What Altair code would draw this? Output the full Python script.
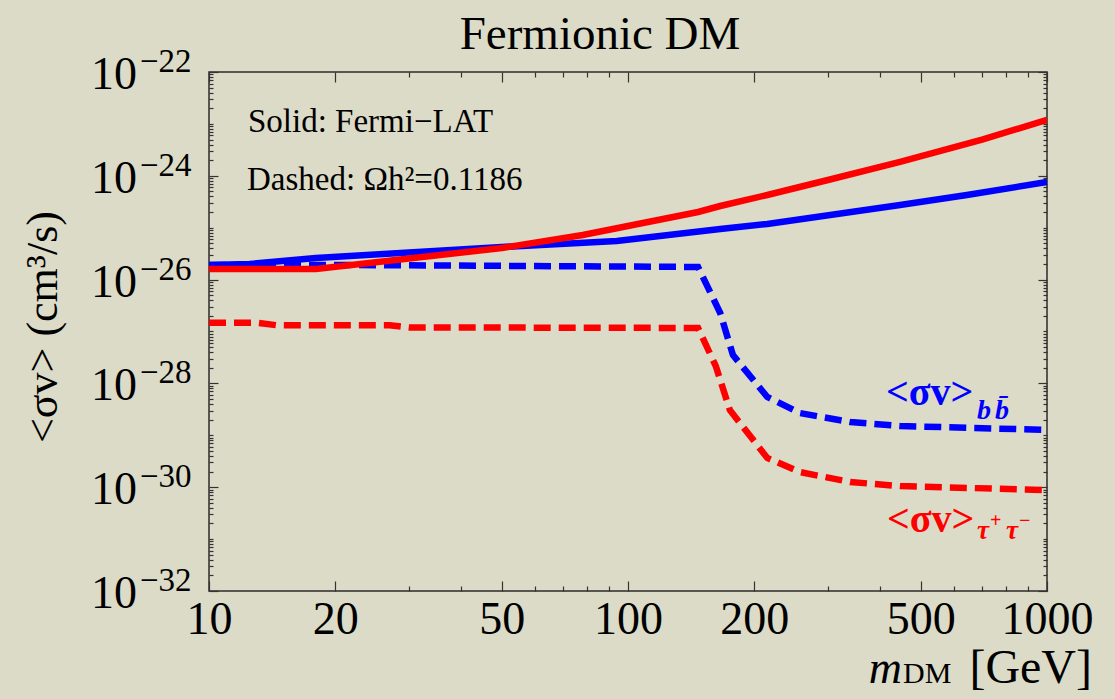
import altair as alt
import pandas as pd

# Dark-matter mass (GeV) and annihilation cross section <σv> (cm^3/s)
bb_fermi_mass = [10, 12.5, 18, 50, 94, 166, 215, 446, 644, 1000]
bb_fermi_sv = [1.91e-26, 2.00e-26, 2.61e-26, 4.25e-26, 5.55e-26, 9.44e-26,
               1.18e-25, 2.74e-25, 4.27e-25, 7.60e-25]

tau_fermi_mass = [10, 18, 50, 78, 147, 166, 215, 300, 446, 700, 1000]
tau_fermi_sv = [1.60e-26, 1.60e-26, 4.06e-26, 7.23e-26, 2.01e-25, 2.62e-25,
                4.27e-25, 8.30e-25, 1.85e-24, 5.0e-24, 1.19e-23]

bb_relic_mass = [10, 25, 147, 166, 178, 215, 257, 339, 446, 1000]
bb_relic_sv = [1.91e-26, 1.90e-26, 1.75e-26, 2.27e-27, 3.52e-28, 5.47e-29,
               2.69e-29, 1.80e-29, 1.51e-29, 1.27e-29]

tau_relic_mass = [10, 13, 14.5, 27, 30, 147, 162, 175, 215, 257, 339, 446, 1000]
tau_relic_sv = [1.48e-27, 1.48e-27, 1.32e-27, 1.32e-27, 1.20e-27, 1.17e-27,
                2.16e-28, 3.07e-29, 3.66e-30, 1.96e-30, 1.26e-30, 1.05e-30, 8.8e-31]

# Axis ticks and labels
x_major = [10, 20, 50, 100, 200, 500, 1000]
x_minor = [30, 40, 60, 70, 80, 90, 300, 400, 600, 700, 800, 900]
y_label_exp = [-22, -24, -26, -28, -30, -32]
y_odd_exp = [-23, -25, -27, -29, -31]

FONT = "Liberation Serif"
W, H = 838, 519
BLUE, RED = "#0000ff", "#ff0000"
TICK = "#333333"

X = alt.Scale(type="log", domain=[10, 1000], nice=False)
Y = alt.Scale(type="log", domain=[1e-32, 1e-22], nice=False)

y_major = [10.0 ** e for e in y_label_exp]
y_minor = [10.0 ** e for e in y_odd_exp] + [
    k * 10.0 ** e for e in range(-32, -22) for k in range(2, 10)
]


def curve(mass, sv, color, dash=None):
    df = pd.DataFrame({"m": mass, "sv": sv})
    props = dict(color=color, strokeWidth=6.5, clip=True)
    if dash:
        props["strokeDash"] = dash
    return alt.Chart(df).mark_line(**props).encode(
        x=alt.X("m:Q", scale=X, axis=None),
        y=alt.Y("sv:Q", scale=Y, axis=None),
    )


def tick_axis(orient, offset, values, size):
    return alt.Axis(orient=orient, offset=offset, values=values, tickSize=size,
                    tickColor=TICK, tickWidth=1.2, labels=False, domain=False,
                    grid=False, title=None)


frame_df = pd.DataFrame({"m": [10, 1000], "sv": [1e-32, 1e-22]})


def tick_layer(x_axis, y_axis):
    return alt.Chart(frame_df).mark_point(opacity=0).encode(
        x=alt.X("m:Q", scale=X, axis=x_axis),
        y=alt.Y("sv:Q", scale=Y, axis=y_axis),
    )


one = pd.DataFrame({"k": [0]})


def label(s, x, y, size, color="black", weight="normal", style="normal",
          align="left", angle=0):
    return alt.Chart(one).mark_text(
        text=s, fontSize=size, font=FONT, color=color, fontWeight=weight,
        fontStyle=style, align=align, baseline="alphabetic", angle=angle,
    ).encode(x=alt.value(x), y=alt.value(y))


# Bottom axis with the mass labels
x_label_axis = alt.Axis(orient="bottom", values=x_major, format="d",
                        labelFont=FONT, labelFontSize=46, labelColor="black",
                        labelPadding=42, labelBaseline="alphabetic",
                        labelOverlap=False, labelFlush=False, ticks=False,
                        tickSize=0, domain=False, grid=False, title=None)

layers = [
    # inward ticks on all four frame edges
    tick_layer(x_label_axis, tick_axis("right", -W, y_major, 9)),
    tick_layer(tick_axis("top", -H, x_major, 10), tick_axis("left", -W, y_major, 9)),
    tick_layer(tick_axis("bottom", -H, x_major, 10), tick_axis("right", -W, y_minor, 4)),
    tick_layer(tick_axis("top", -H, x_minor, 5), tick_axis("left", -W, y_minor, 4)),
    tick_layer(tick_axis("bottom", -H, x_minor, 5), None),
    # curves
    curve(bb_relic_mass, bb_relic_sv, BLUE, [17, 8]),
    curve(tau_relic_mass, tau_relic_sv, RED, [17, 8]),
    curve(bb_fermi_mass, bb_fermi_sv, BLUE),
    curve(tau_fermi_mass, tau_fermi_sv, RED),
]

# y tick labels: "10" with a raised exponent
ylab = pd.DataFrame({
    "sv": y_major,
    "exp": ["\u2212" + str(-e) for e in y_label_exp],
})
layers.append(
    alt.Chart(ylab).mark_text(text="10", font=FONT, fontSize=46, color="black",
                              align="right", baseline="alphabetic", dy=17)
    .encode(x=alt.value(-72), y=alt.Y("sv:Q", scale=Y, axis=None))
)
layers.append(
    alt.Chart(ylab).mark_text(font=FONT, fontSize=33, color="black",
                              align="left", baseline="alphabetic")
    .encode(x=alt.value(-69), y=alt.Y("sv:Q", scale=Y, axis=None),
            text="exp:N")
)

layers += [
    label("Fermionic DM", 391, -23, 47, align="center"),
    label("Solid: Fermi\u2212LAT", 39, 60, 33),
    label("Dashed: \u03a9h\u00b2=0.1186", 38, 118, 33),
    # b b-bar channel label
    label("<\u03c3v>", 677, 333, 40, color=BLUE, weight="bold"),
    label("b", 768, 347, 28, color=BLUE, weight="bold", style="italic"),
    label("b\u0304", 786, 347, 28, color=BLUE, weight="bold", style="italic"),
    # tau+ tau- channel label
    label("<\u03c3v>", 678, 460, 40, color=RED, weight="bold"),
    label("\u03c4", 768, 467, 27, color=RED, weight="bold", style="italic"),
    label("+", 781, 455, 20, color=RED, weight="bold"),
    label("\u03c4", 797, 467, 27, color=RED, weight="bold", style="italic"),
    label("\u2212", 810, 455, 20, color=RED, weight="bold"),
    # axis titles
    label("<\u03c3v> (cm\u00b3/s)", -152, 255, 44, align="center", angle=270),
    label("m", 693, 611, 46, style="italic", align="right"),
    label("DM", 694, 611, 30),
    label("[GeV]", 883, 611, 48, align="right"),
]

chart = (
    alt.layer(*layers)
    .resolve_axis(x="independent", y="independent")
    .properties(
        width=W, height=H,
        padding={"left": 209, "top": 72, "right": 68, "bottom": 108},
        autosize=alt.AutoSizeParams(type="none"),
        background="#dcdbc7",
    )
    .configure_view(stroke="#2b2b2b", strokeWidth=1.5)
)

chart.save("out.html", embed_options={"renderer": "svg", "actions": False})
